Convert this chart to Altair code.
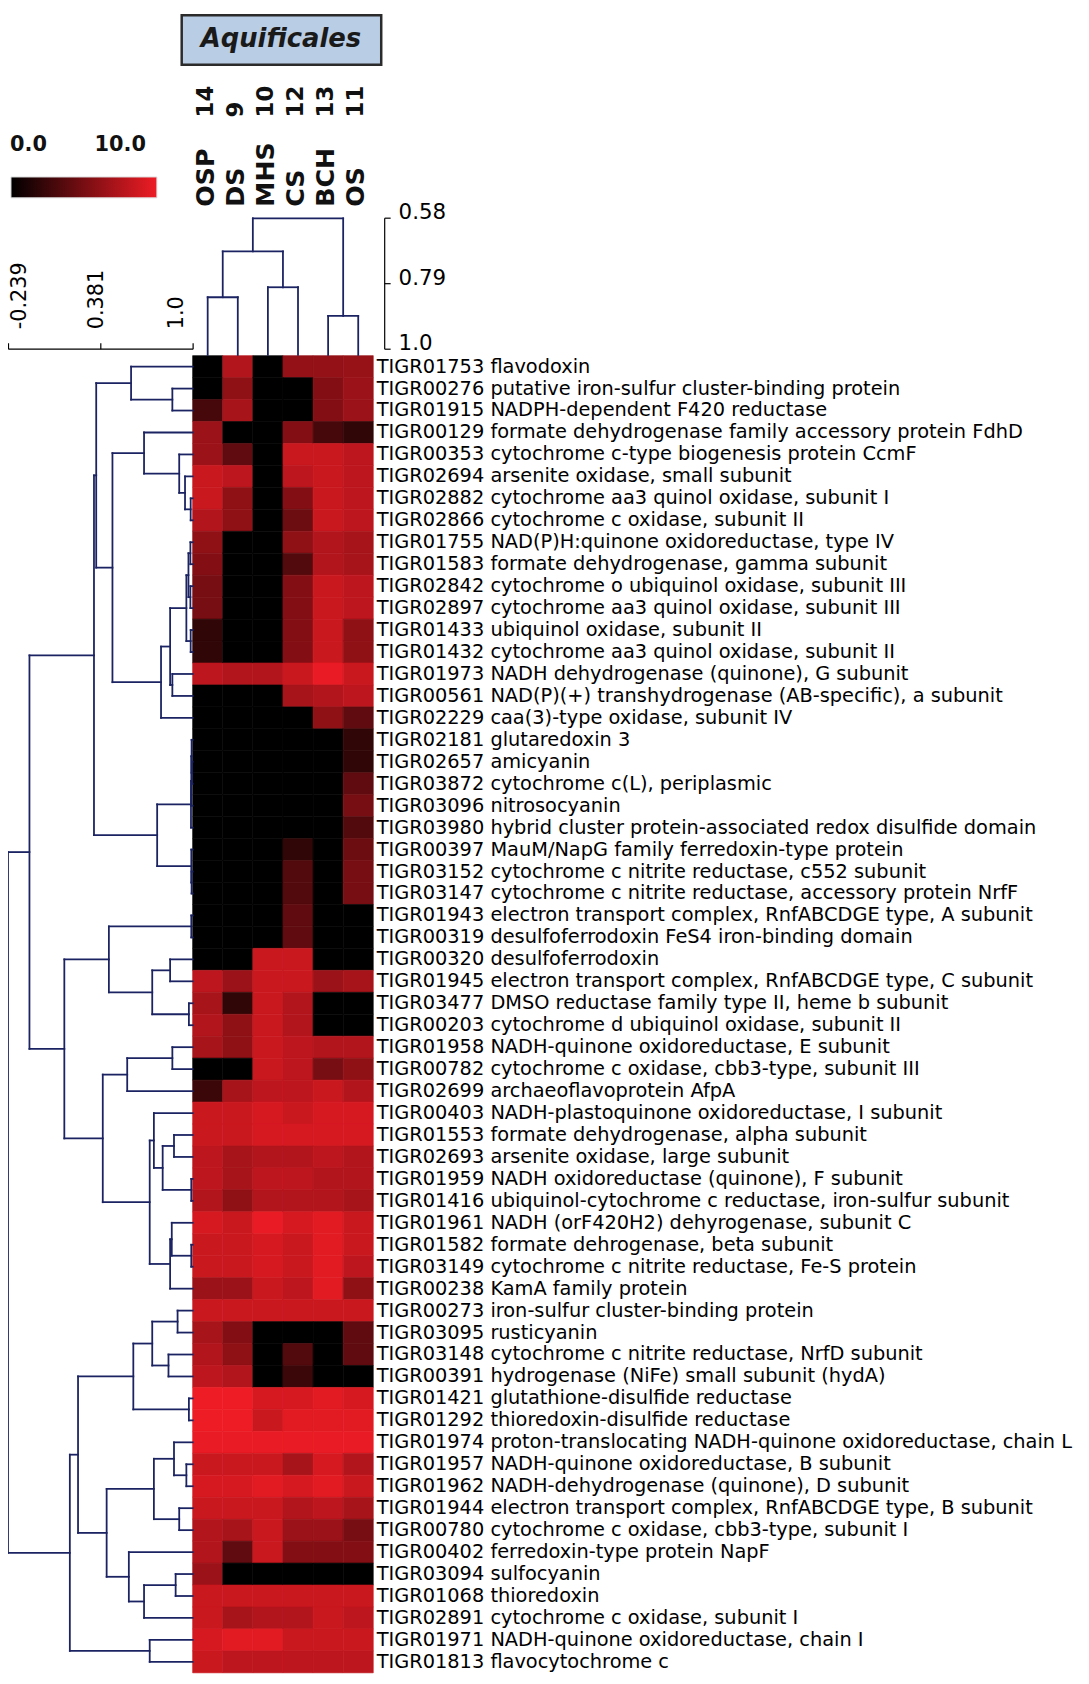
import altair as alt
import pandas as pd

# ---------------- data ----------------
columns = ["OSP", "DS", "MHS", "CS", "BCH", "OS"]
column_numbers = ["14", "9", "10", "12", "13", "11"]

row_labels = [
    "TIGR01753 flavodoxin",
    "TIGR00276 putative iron-sulfur cluster-binding protein",
    "TIGR01915 NADPH-dependent F420 reductase",
    "TIGR00129 formate dehydrogenase family accessory protein FdhD",
    "TIGR00353 cytochrome c-type biogenesis protein CcmF",
    "TIGR02694 arsenite oxidase, small subunit",
    "TIGR02882 cytochrome aa3 quinol oxidase, subunit I",
    "TIGR02866 cytochrome c oxidase, subunit II",
    "TIGR01755 NAD(P)H:quinone oxidoreductase, type IV",
    "TIGR01583 formate dehydrogenase, gamma subunit",
    "TIGR02842 cytochrome o ubiquinol oxidase, subunit III",
    "TIGR02897 cytochrome aa3 quinol oxidase, subunit III",
    "TIGR01433 ubiquinol oxidase, subunit II",
    "TIGR01432 cytochrome aa3 quinol oxidase, subunit II",
    "TIGR01973 NADH dehydrogenase (quinone), G subunit",
    "TIGR00561 NAD(P)(+) transhydrogenase (AB-specific), a subunit",
    "TIGR02229 caa(3)-type oxidase, subunit IV",
    "TIGR02181 glutaredoxin 3",
    "TIGR02657 amicyanin",
    "TIGR03872 cytochrome c(L), periplasmic",
    "TIGR03096 nitrosocyanin",
    "TIGR03980 hybrid cluster protein-associated redox disulfide domain",
    "TIGR00397 MauM/NapG family ferredoxin-type protein",
    "TIGR03152 cytochrome c nitrite reductase, c552 subunit",
    "TIGR03147 cytochrome c nitrite reductase, accessory protein NrfF",
    "TIGR01943 electron transport complex, RnfABCDGE type, A subunit",
    "TIGR00319 desulfoferrodoxin FeS4 iron-binding domain",
    "TIGR00320 desulfoferrodoxin",
    "TIGR01945 electron transport complex, RnfABCDGE type, C subunit",
    "TIGR03477 DMSO reductase family type II, heme b subunit",
    "TIGR00203 cytochrome d ubiquinol oxidase, subunit II",
    "TIGR01958 NADH-quinone oxidoreductase, E subunit",
    "TIGR00782 cytochrome c oxidase, cbb3-type, subunit III",
    "TIGR02699 archaeoflavoprotein AfpA",
    "TIGR00403 NADH-plastoquinone oxidoreductase, I subunit",
    "TIGR01553 formate dehydrogenase, alpha subunit",
    "TIGR02693 arsenite oxidase, large subunit",
    "TIGR01959 NADH oxidoreductase (quinone), F subunit",
    "TIGR01416 ubiquinol-cytochrome c reductase, iron-sulfur subunit",
    "TIGR01961 NADH (orF420H2) dehyrogenase, subunit C",
    "TIGR01582 formate dehrogenase, beta subunit",
    "TIGR03149 cytochrome c nitrite reductase, Fe-S protein",
    "TIGR00238 KamA family protein",
    "TIGR00273 iron-sulfur cluster-binding protein",
    "TIGR03095 rusticyanin",
    "TIGR03148 cytochrome c nitrite reductase, NrfD subunit",
    "TIGR00391 hydrogenase (NiFe) small subunit (hydA)",
    "TIGR01421 glutathione-disulfide reductase",
    "TIGR01292 thioredoxin-disulfide reductase",
    "TIGR01974 proton-translocating NADH-quinone oxidoreductase, chain L",
    "TIGR01957 NADH-quinone oxidoreductase, B subunit",
    "TIGR01962 NADH-dehydrogenase (quinone), D subunit",
    "TIGR01944 electron transport complex, RnfABCDGE type, B subunit",
    "TIGR00780 cytochrome c oxidase, cbb3-type, subunit I",
    "TIGR00402 ferredoxin-type protein NapF",
    "TIGR03094 sulfocyanin",
    "TIGR01068 thioredoxin",
    "TIGR02891 cytochrome c oxidase, subunit I",
    "TIGR01971 NADH-quinone oxidoreductase, chain I",
    "TIGR01813 flavocytochrome c",
]

osp_values = [0, 0, 3, 6.5, 6.5, 8.5, 8.5, 7.5, 6, 5.5,
              5, 5, 2, 2, 8, 0, 0, 0, 0, 0,
              0, 0, 0, 0, 0, 0, 0, 0, 8, 7,
              7.5, 7, 0, 2.5, 8.5, 8.5, 8, 8, 7.5, 9,
              8.5, 8.5, 6.5, 8.5, 7, 7.5, 8, 10, 10, 9.8,
              8.5, 9, 8.5, 7.5, 7.5, 6.5, 8.5, 8.5, 9, 8.5]
ds_values = [7.5, 6, 7, 0, 4, 8, 6, 6, 0, 0,
             0, 0, 0, 0, 7.5, 0, 0, 0, 0, 0,
             0, 0, 0, 0, 0, 0, 0, 0, 6.5, 2,
             6, 6, 0, 7, 8.5, 8.5, 7, 7, 6, 8.5,
             8.5, 8.5, 6.5, 8.5, 5.5, 6, 7.5, 10, 10, 9.8,
             8.5, 9, 8.5, 7, 4, 0, 8.5, 7, 9.5, 8]
mhs_values = [0, 0, 0, 0, 0, 0, 0, 0, 0, 0,
              0, 0, 0, 0, 7.5, 0, 0, 0, 0, 0,
              0, 0, 0, 0, 0, 0, 0, 8.5, 8.5, 8.5,
              8.5, 8.5, 8.5, 8, 9, 9, 7.5, 8, 7.5, 9.8,
              9, 9, 8.5, 8.5, 0, 0, 0, 9, 8.5, 9.8,
              8.5, 9.5, 8.5, 8.5, 8.5, 0, 8.5, 7.5, 9.5, 8]
cs_values = [6.2, 0, 0, 5.5, 8.5, 8, 5.5, 4.5, 6, 3.5,
             5.5, 5.5, 5.5, 5.5, 8.5, 7, 0, 0, 0, 0,
             0, 0, 2, 3.5, 3.5, 4, 4, 8.5, 8.5, 7.5,
             7.5, 8, 8, 8, 8.5, 9, 7.5, 8, 7.5, 9,
             8.5, 8.5, 8, 8.5, 0, 3.5, 2.5, 9, 9.5, 9.8,
             7, 9, 7.5, 6.5, 5.5, 0, 8.5, 7.5, 8.5, 8]
bch_values = [6.2, 5.5, 5.5, 3, 8.5, 8.5, 8.5, 8.5, 7.5, 7.5,
              8.5, 8.5, 8.5, 8.5, 9.8, 7.5, 6, 0, 0, 0,
              0, 0, 0, 0, 0, 0, 0, 0, 6.5, 0,
              0, 7.5, 5, 8.5, 9, 9, 8, 7.5, 7.5, 9.5,
              9.5, 9.5, 9.5, 8.5, 0, 0, 0, 9.5, 9.5, 9.8,
              9, 9.5, 8, 6.5, 5.5, 0, 8.5, 8.5, 8.5, 8]
os_values = [6.3, 6.5, 6.5, 2, 8, 8, 8, 8, 7, 7,
             8, 8, 6, 6, 8.5, 8, 4, 2, 2, 4,
             5, 3.5, 4.5, 5, 5, 0, 0, 0, 7, 0,
             0, 7.5, 6, 7.5, 9, 9, 7.5, 7.5, 7, 8.5,
             8.5, 8, 6, 8.5, 4, 4, 0, 9, 9.5, 9.8,
             7.5, 8.5, 7, 5, 5.5, 0, 8.5, 8, 8.5, 8]

# column tree (leaf = column index), similarity heights
col_links = [
    ("cA", 0, 1, 0.835),
    ("cB", 2, 3, 0.803),
    ("cC", 4, 5, 0.895),
    ("cD", "cA", "cB", 0.688),
    ("croot", "cD", "cC", 0.582),
]
col_ticks = [0.58, 0.79, 1.0]

# row tree (leaf = row number 1..60), correlation heights
row_links = [
    ("a1", 2, 3, 0.864), ("a2", 1, "a1", 0.587),
    ("e4", 7, 8, 0.987), ("e3", 6, "e4", 0.949), ("e2", 5, "e3", 0.910), ("E", 4, "e2", 0.674),
    ("m1", 9, 10, 0.985), ("m2", 11, 12, 0.985), ("M", "m1", "m2", 0.972),
    ("N", 13, 14, 0.987), ("K", "M", "N", 0.958),
    ("L", 15, 16, 0.864), ("J", "K", "L", 0.849), ("F", "J", 17, 0.788),
    ("B", "E", "F", 0.462), ("A", "a2", "B", 0.353),
    ("p1", 19, 20, 0.995), ("p2", 18, "p1", 0.993), ("p3", "p2", 21, 0.991), ("P", "p3", 22, 0.989),
    ("q1", 24, 25, 0.993), ("Q", 23, "q1", 0.991),
    ("D", "P", "Q", 0.762), ("C", "A", "D", 0.338),
    ("u1", 26, 27, 0.991), ("s1", 28, 29, 0.849), ("s2", 30, 31, 0.975),
    ("S", "s1", "s2", 0.729), ("U", "u1", "S", 0.438),
    ("w1", 32, 33, 0.864), ("W", "w1", 34, 0.561),
    ("y1", 36, 37, 0.875), ("y2", 38, 39, 0.991), ("y3", "y1", "y2", 0.799), ("Y", 35, "y3", 0.740),
    ("z1", 41, 42, 0.991), ("z2", 40, "z1", 0.860), ("Z", "z2", 43, 0.849),
    ("X", "Y", "Z", 0.712), ("V", "W", "X", 0.397), ("T", "U", "V", 0.139),
    ("R", "C", "T", -0.095),
    ("b1", 44, 45, 0.899), ("b2", 46, 47, 0.838), ("b3", "b1", "b2", 0.729),
    ("b4", 48, 49, 0.975), ("b5", "b3", "b4", 0.602),
    ("c1", 51, 52, 0.958), ("c2", 50, "c1", 0.875), ("c3", 53, 54, 0.910), ("c4", "c2", "c3", 0.740),
    ("d1", 56, 57, 0.886), ("d2", "d1", 58, 0.674), ("d3", 55, "d2", 0.572),
    ("c5", "c4", "d3", 0.423), ("G1", "b5", "c5", 0.231),
    ("h1", 59, 60, 0.712), ("H", "G1", "h1", 0.176),
    ("root", "R", "H", -0.239),
]
row_ticks = [-0.239, 0.381, 1.0]

title_text = "Aquificales"
legend_labels = ["0.0", "10.0"]
color_min, color_max = "#000000", "#ee1c25"

# ---------------- build tables ----------------
site_values = dict(zip(columns, [osp_values, ds_values, mhs_values, cs_values, bch_values, os_values]))
heat_df = pd.DataFrame([
    {"site": c, "gene": g, "v": site_values[c][i]}
    for c in columns for i, g in enumerate(row_labels)
])


def dendro_segments(links, leaf_pos, leaf_h):
    pos, hgt = dict(leaf_pos), {k: leaf_h for k in leaf_pos}
    segs = []
    for name, a, b, h in links:
        for ch in (a, b):
            segs.append({"h1": h, "h2": hgt[ch], "p1": pos[ch], "p2": pos[ch]})
        segs.append({"h1": h, "h2": h, "p1": pos[a], "p2": pos[b]})
        pos[name] = (pos[a] + pos[b]) / 2
        hgt[name] = h
    return pd.DataFrame(segs)


row_seg = dendro_segments(row_links, {k: k - 0.5 for k in range(1, len(row_labels) + 1)}, 1.0)
col_seg = dendro_segments(col_links, {i: float(i) for i in range(len(columns))}, 1.02)

# ---------------- layout (chart px) ----------------
W, H = 1081, 1676
HX = [186, 368]          # heatmap x range
HY = [344, 1671]         # heatmap y range
navy = "#1b2362"
FONT = "DejaVu Sans"

color_scale = alt.Scale(domain=[0, 10], range=[color_min, color_max], interpolate="rgb", clamp=True)

heat = alt.Chart(heat_df).mark_rect(strokeWidth=0.6, opacity=1, fillOpacity=1, strokeOpacity=1).encode(
    x=alt.X("site:N", sort=columns, axis=None,
            scale=alt.Scale(domain=columns, range=HX, paddingInner=0, paddingOuter=0)),
    y=alt.Y("gene:N", sort=row_labels,
            scale=alt.Scale(domain=row_labels, range=HY, paddingInner=0, paddingOuter=0),
            axis=alt.Axis(orient="right", offset=HX[1] - W, domain=False, ticks=False,
                          labelPadding=3, labelFont=FONT, labelFontSize=19.5, labelColor="black",
                          labelLimit=1000, labelOverlap=False, title=None, grid=False)),
    color=alt.Color("v:Q", scale=color_scale, legend=None),
    stroke=alt.Stroke("v:Q", scale=color_scale, legend=None),
)

# colour key (gradient bar + end labels)
key_df = pd.DataFrame({"t": ["key"]})
key_bar = alt.Chart(key_df).mark_rect(
    fill=alt.Gradient(gradient="linear",
                      stops=[alt.GradientStop(color=color_min, offset=0),
                             alt.GradientStop(color=color_max, offset=1)],
                      x1=0, x2=1, y1=0, y2=0),
    stroke="#dddddd", strokeWidth=1,
).encode(x=alt.value(3), x2=alt.value(150), y=alt.value(164), y2=alt.value(185))
key_lo = alt.Chart(key_df).mark_text(font=FONT, fontSize=21, fontWeight="bold", color="#111111",
                                     align="left", baseline="middle").encode(
    x=alt.value(2), y=alt.value(132), text=alt.value(legend_labels[0]))
key_hi = alt.Chart(key_df).mark_text(font=FONT, fontSize=21, fontWeight="bold", color="#111111",
                                     align="right", baseline="middle").encode(
    x=alt.value(139), y=alt.value(132), text=alt.value(legend_labels[1]))

lab_df = pd.DataFrame({"site": columns, "num": column_numbers})
names = alt.Chart(lab_df).mark_text(angle=270, align="left", baseline="middle", font=FONT,
                                    fontWeight="bold", fontSize=25.5, color="#111111", dy=-2).encode(
    x=alt.X("site:N", axis=None, scale=alt.Scale(domain=columns, range=HX, paddingInner=0, paddingOuter=0)),
    y=alt.value(194),
    text="site:N",
)
nums = alt.Chart(lab_df).mark_text(angle=270, align="left", baseline="middle", font=FONT,
                                   fontWeight="bold", fontSize=23, color="#111111", dy=-2).encode(
    x=alt.X("site:N", axis=None, scale=alt.Scale(domain=columns, range=HX, paddingInner=0, paddingOuter=0)),
    y=alt.value(104),
    text="num:N",
)

col_dendro = alt.Chart(col_seg).mark_rule(color=navy, strokeWidth=1.8, strokeCap="square").encode(
    x=alt.X("p1:Q", axis=None, scale=alt.Scale(domain=[-0.5, len(columns) - 0.5], range=HX, nice=False, zero=False)),
    x2="p2:Q",
    y=alt.Y("h1:Q", scale=alt.Scale(domain=[0.58, 1.0], range=[205, 337], nice=False, zero=False),
            axis=alt.Axis(orient="right", offset=379 - W, values=col_ticks, tickSize=6, tickColor="black",
                          domainColor="black", tickWidth=1.2, domainWidth=1.2, grid=False, title=None,
                          labelFont=FONT, labelFontSize=21.5, labelColor="black", labelPadding=8,
                          labelOffset=-5,
                          labelExpr="datum.value == 1 ? '1.0' : format(datum.value, '.2f')")),
    y2="h2:Q",
)

row_dendro = alt.Chart(row_seg).mark_rule(color=navy, strokeWidth=1.8, strokeCap="square").encode(
    x=alt.X("h1:Q", scale=alt.Scale(domain=[-0.239, 1.0], range=[0, HX[0]], nice=False, zero=False),
            axis=alt.Axis(orient="top", offset=-337, values=row_ticks, tickSize=6, tickColor="black",
                          domainColor="black", tickWidth=1.2, domainWidth=1.2, grid=False, title=None,
                          labelAngle=270, labelAlign="left", labelBaseline="middle", labelPadding=14,
                          labelFont=FONT, labelFontSize=21, labelColor="black",
                          labelOffset={"condition": [{"test": "datum.value < 0", "value": 12},
                                                     {"test": "datum.value > 0.9", "value": -16}],
                                       "value": -4},
                          labelExpr="(datum.value < 0 ? '-' : '') + (datum.value == 1 ? '1.0' : format(abs(datum.value), '.3f'))")),
    x2="h2:Q",
    y=alt.Y("p1:Q", axis=None, scale=alt.Scale(domain=[0, len(row_labels)], range=HY, nice=False, zero=False)),
    y2="p2:Q",
)

title_df = pd.DataFrame({"t": [title_text]})
title_box = alt.Chart(title_df).mark_rect(fill="#b9cde5", stroke="#2b2b2b", strokeWidth=2.5).encode(
    x=alt.value(175), x2=alt.value(376), y=alt.value(1), y2=alt.value(51)
)
title_lbl = alt.Chart(title_df).mark_text(font=FONT, fontSize=26, fontWeight="bold", fontStyle="italic",
                                          color="#1a1a1a", align="center", baseline="middle").encode(
    x=alt.value(275), y=alt.value(25), text="t:N"
)

chart = alt.layer(title_box, title_lbl, key_bar, key_lo, key_hi, heat, names, nums,
                  col_dendro, row_dendro).resolve_scale(
    x="independent", y="independent"
).properties(
    width=W, height=H, padding=0, autosize=alt.AutoSizeParams(type="none")
).configure_view(stroke=None)

chart.save("out.html", embed_options={"renderer": "svg", "actions": False})
